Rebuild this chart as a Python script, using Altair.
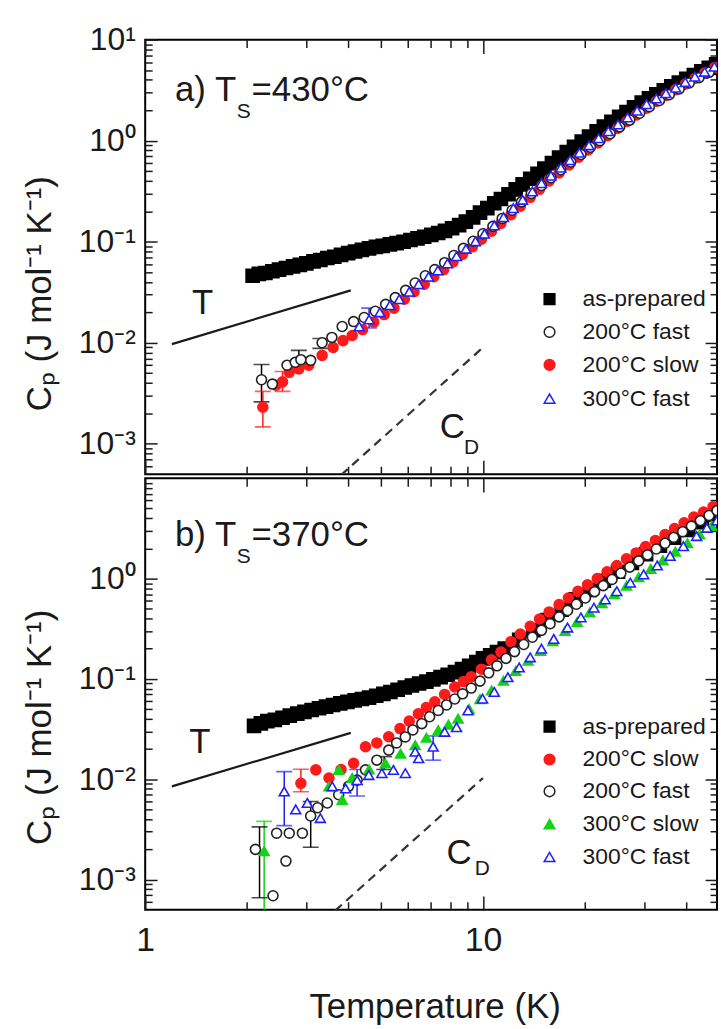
import altair as alt
import pandas as pd

# ---------------- panel a) T_S = 430 C ----------------
A_ASPREP_T = [2.08, 2.17, 2.27, 2.38, 2.49, 2.61, 2.74, 2.87, 3.0, 3.15, 3.3, 3.46, 3.63, 3.8, 3.99,
              4.18, 4.38, 4.6, 4.82, 5.05, 5.3, 5.55, 5.82, 6.1, 6.4, 6.7, 7.03, 7.37, 7.72, 8.1,
              8.5, 8.9, 9.35, 9.8, 10.3, 10.8, 11.3, 11.9, 12.5, 13.1, 13.8, 14.5, 15.2, 16.0, 16.8,
              17.7, 18.6, 19.6, 20.6, 21.7, 22.8, 24.0, 25.3, 26.6, 28.0, 29.5, 31.0, 32.6, 34.3, 36.1,
              38.0, 40.0, 42.1, 44.3, 46.6, 49.0]
A_ASPREP_C = [0.046, 0.048, 0.049, 0.051, 0.053, 0.055, 0.057, 0.059, 0.061, 0.064, 0.066, 0.069, 0.071, 0.074, 0.077,
              0.080, 0.083, 0.086, 0.089, 0.091, 0.094, 0.097, 0.100, 0.104, 0.108, 0.112, 0.117, 0.122, 0.128, 0.136,
              0.146, 0.158, 0.174, 0.194, 0.215, 0.240, 0.265, 0.295, 0.330, 0.370, 0.420, 0.470, 0.530, 0.600, 0.680,
              0.770, 0.870, 0.980, 1.10, 1.24, 1.38, 1.54, 1.72, 1.92, 2.14, 2.38, 2.62, 2.88, 3.15, 3.45,
              3.75, 4.10, 4.45, 4.85, 5.25, 5.70]
A_200F_T = [2.21, 2.38, 2.63, 2.78, 2.89, 3.09, 3.34, 3.57, 3.83, 4.14, 4.45, 4.8, 5.15, 5.5, 5.9,
            6.3, 6.75, 7.2, 7.7, 8.2, 8.75, 9.35, 10.0, 10.7, 11.4, 12.2, 13.0, 13.9, 14.9, 15.9,
            17.0, 18.2, 19.5, 20.8, 22.2, 23.8, 25.4, 27.2, 29.1, 31.1, 33.3, 35.6, 38.1, 40.8, 43.6, 46.7]
A_200F_C = [0.0043, 0.0039, 0.0060, 0.0064, 0.0068, 0.0067, 0.0100, 0.0113, 0.0145, 0.0162, 0.0178, 0.0205, 0.024, 0.028, 0.033,
            0.039, 0.046, 0.053, 0.062, 0.073, 0.086, 0.101, 0.120, 0.142, 0.170, 0.205, 0.248, 0.300, 0.360, 0.430,
            0.515, 0.615, 0.730, 0.860, 1.00, 1.17, 1.37, 1.60, 1.87, 2.17, 2.50, 2.85, 3.25, 3.72, 4.20, 4.75]
A_200S_T = [2.23, 2.44, 2.55, 2.67, 2.85, 3.05, 3.34, 3.6, 3.85, 4.1, 4.4, 4.75, 5.1, 5.45, 5.85,
            6.25, 6.7, 7.15, 7.65, 8.15, 8.7, 9.3, 9.9, 10.6, 11.3, 12.1, 12.9, 13.8, 14.7, 15.7,
            16.8, 18.0, 19.2, 20.5, 21.9, 23.4, 25.0, 26.7, 28.5, 30.5, 32.6, 34.8, 37.2, 39.8, 42.5, 45.4, 48.5]
A_200S_C = [0.0023, 0.0038, 0.0041, 0.0051, 0.0055, 0.0060, 0.0075, 0.0090, 0.0105, 0.0118, 0.0135, 0.0160, 0.019, 0.022, 0.027,
            0.032, 0.038, 0.045, 0.053, 0.063, 0.075, 0.089, 0.106, 0.127, 0.152, 0.185, 0.225, 0.275, 0.330, 0.400,
            0.480, 0.575, 0.685, 0.810, 0.950, 1.12, 1.32, 1.55, 1.80, 2.10, 2.45, 2.80, 3.20, 3.65, 4.15, 4.70, 5.30]
A_300F_T = [4.3, 4.6, 4.95, 5.3, 5.65, 6.05, 6.45, 6.9, 7.35, 7.85, 8.35, 8.9, 9.5, 10.1, 10.8,
            11.5, 12.3, 13.1, 14.0, 14.9, 15.9, 17.0, 18.1, 19.3, 20.6, 22.0, 23.5, 25.1, 26.8, 28.6,
            30.5, 32.6, 34.8, 37.2, 39.7, 42.4, 45.3, 48.4]
A_300F_C = [0.0145, 0.017, 0.020, 0.0235, 0.027, 0.032, 0.038, 0.045, 0.052, 0.061, 0.072, 0.085, 0.101, 0.120, 0.145,
            0.175, 0.215, 0.260, 0.315, 0.380, 0.450, 0.540, 0.640, 0.760, 0.900, 1.06, 1.24, 1.45, 1.70, 1.98,
            2.30, 2.62, 2.95, 3.35, 3.80, 4.30, 4.80, 5.40]
A_ERR_SERIES = ["200°C fast", "200°C slow", "200°C slow", "200°C fast", "200°C fast", "300°C fast"]
A_ERR_T = [2.21, 2.23, 2.55, 2.85, 3.3, 4.6]
A_ERR_LO = [0.0026, 0.00147, 0.0033, 0.0056, 0.0088, 0.0140]
A_ERR_HI = [0.0061, 0.0033, 0.0052, 0.0084, 0.0110, 0.0220]
A_TLINE_T = [1.2, 4.06]
A_TLINE_C = [0.0097, 0.033]
A_CD_T = [3.8, 10.0]
A_CD_C = [0.00049, 0.0090]

# ---------------- panel b) T_S = 370 C ----------------
B_ASPREP_T = [2.1, 2.2, 2.3, 2.42, 2.55, 2.68, 2.82, 2.96, 3.11, 3.27, 3.43, 3.6, 3.78, 3.97, 4.17,
              4.38, 4.6, 4.83, 5.07, 5.32, 5.59, 5.87, 6.16, 6.47, 6.8, 7.13, 7.49, 7.86, 8.26, 8.67,
              9.1, 9.56, 10.0, 10.5, 11.0, 11.6, 12.8, 14.1, 15.5, 17.1, 18.8, 20.7, 22.8, 25.1, 27.6,
              30.4, 33.4, 36.8, 40.5, 44.5, 49.0]
B_ASPREP_C = [0.034, 0.036, 0.038, 0.039, 0.041, 0.043, 0.045, 0.047, 0.049, 0.051, 0.053, 0.055, 0.057, 0.059, 0.061,
              0.063, 0.065, 0.068, 0.071, 0.074, 0.078, 0.082, 0.086, 0.090, 0.094, 0.099, 0.104, 0.110, 0.117, 0.125,
              0.135, 0.147, 0.160, 0.172, 0.185, 0.200, 0.245, 0.305, 0.385, 0.490, 0.620, 0.770, 0.950, 1.17, 1.43,
              1.75, 2.12, 2.55, 3.05, 3.65, 4.35]
B_200S_T = [2.89, 3.2, 3.5, 3.8, 4.14, 4.49, 4.85, 5.26, 5.68, 6.05, 6.44, 6.8, 7.2, 7.7, 8.25,
            8.75, 9.23, 9.9, 10.6, 11.3, 12.1, 12.9, 13.8, 14.7, 15.7, 16.8, 17.9, 19.1, 20.4, 21.8,
            23.3, 24.9, 26.6, 28.4, 30.3, 32.4, 34.6, 36.9, 39.4, 42.1, 45.0, 48.0]
B_200S_C = [0.0091, 0.0124, 0.0103, 0.0125, 0.0144, 0.0211, 0.023, 0.0265, 0.032, 0.038, 0.045, 0.052, 0.059, 0.070, 0.083,
            0.094, 0.105, 0.125, 0.155, 0.185, 0.235, 0.28, 0.335, 0.395, 0.465, 0.55, 0.64, 0.745, 0.865, 1.00,
            1.17, 1.35, 1.57, 1.80, 2.08, 2.40, 2.75, 3.15, 3.60, 4.10, 4.60, 5.20]
B_200F_T = [2.12, 2.39, 2.45, 2.61, 2.67, 2.92, 3.09, 3.24, 3.46, 3.74, 4.0, 4.24, 4.49, 4.85, 5.26,
            5.55, 5.89, 6.2, 6.59, 6.95, 7.37, 7.8, 8.25, 8.7, 9.23, 9.8, 10.4, 11.0, 11.7, 12.4,
            13.2, 14.0, 14.9, 15.8, 16.8, 17.8, 18.9, 20.1, 21.4, 22.7, 24.1, 25.6, 27.2, 28.9, 30.7,
            32.6, 34.6, 36.7, 39.0, 41.4, 44.0, 46.7, 49.3]
B_200F_C = [0.0020, 0.00069, 0.0029, 0.00153, 0.0029, 0.0029, 0.0043, 0.0052, 0.0058, 0.0070, 0.0085, 0.0098, 0.0124, 0.0155, 0.0195,
            0.023, 0.0264, 0.031, 0.0358, 0.042, 0.0485, 0.055, 0.063, 0.071, 0.081, 0.095, 0.115, 0.135, 0.16, 0.187,
            0.22, 0.26, 0.305, 0.355, 0.415, 0.48, 0.555, 0.64, 0.74, 0.85, 0.98, 1.13, 1.30, 1.50, 1.72,
            1.97, 2.25, 2.57, 2.93, 3.33, 3.78, 4.25, 4.75]
B_300S_T = [2.25, 3.5, 3.74, 3.83, 4.1, 4.6, 5.14, 5.7, 6.3, 6.8, 7.37, 7.9, 8.44, 9.1, 9.8,
            10.6, 11.5, 12.5, 13.6, 14.8, 16.1, 17.5, 19.0, 20.7, 22.5, 24.5, 26.6, 28.9, 31.4, 34.1,
            37.1, 40.3, 43.8, 47.6]
B_300S_C = [0.00192, 0.0085, 0.0124, 0.00624, 0.0103, 0.0125, 0.0144, 0.018, 0.0219, 0.026, 0.0308, 0.035, 0.0402, 0.050, 0.063,
            0.0766, 0.096, 0.12, 0.152, 0.19, 0.238, 0.30, 0.37, 0.46, 0.57, 0.70, 0.85, 1.03, 1.25, 1.52,
            1.85, 2.25, 2.75, 3.35]
B_300F_T = [2.58, 2.79, 3.02, 3.3, 3.58, 3.92, 4.24, 4.59, 5.02, 5.43, 5.89, 6.3, 6.45, 7.12, 7.7,
            8.35, 9.03, 9.97, 10.8, 11.85, 12.8, 13.8, 14.9, 16.2, 17.8, 19.5, 21.3, 23.0, 24.9, 27.3,
            29.9, 32.8, 35.8, 39.2, 42.9, 46.0, 49.3]
B_300F_C = [0.00755, 0.0050, 0.0058, 0.0041, 0.0085, 0.0081, 0.0098, 0.0110, 0.0115, 0.0124, 0.0115, 0.0188, 0.0162, 0.0211, 0.0297,
            0.033, 0.0485, 0.0634, 0.074, 0.104, 0.13, 0.164, 0.20, 0.25, 0.325, 0.41, 0.513, 0.62, 0.749, 0.91,
            1.10, 1.35, 1.68, 2.10, 2.65, 3.20, 3.80]
B_ERR_SERIES = ["300°C fast", "300°C slow", "200°C fast", "200°C fast", "200°C slow", "300°C fast", "300°C fast", "as-prepared"]
B_ERR_T = [2.58, 2.25, 2.18, 3.09, 2.89, 4.24, 7.12, 5.1]
B_ERR_LO = [0.00345, 0.0003, 0.00066, 0.0021, 0.0075, 0.0068, 0.0155, 0.0125]
B_ERR_HI = [0.0119, 0.0038, 0.00335, 0.0060, 0.0126, 0.0125, 0.0270, 0.0168]
B_TLINE_T = [1.2, 4.06]
B_TLINE_C = [0.0085, 0.0290]
B_CD_T = [3.65, 10.0]
B_CD_C = [0.00049, 0.0103]

# ---------------- tick values ----------------
X_MAJOR = [1, 10]
X_MINOR = [2, 3, 4, 5, 6, 7, 8, 9, 20, 30, 40]
Y_MAJOR_A = [0.001, 0.01, 0.1, 1, 10]
Y_MAJOR_B = [0.001, 0.01, 0.1, 1]
Y_MINOR = [0.0006, 0.0007, 0.0008, 0.0009, 0.002, 0.003, 0.004, 0.005, 0.006, 0.007, 0.008, 0.009,
           0.02, 0.03, 0.04, 0.05, 0.06, 0.07, 0.08, 0.09, 0.2, 0.3, 0.4, 0.5, 0.6, 0.7, 0.8, 0.9,
           2, 3, 4, 5, 6, 7, 8, 9]

# ---------------- annotation texts (placed in data coordinates) ----------------
A_TXT = ["a) T", "=430°C", "T", "C"]
A_TXT_T = [1.225, 2.064, 1.375, 7.45]
A_TXT_C = [2.45, 2.45, 0.0191, 0.00113]
A_SUB = ["S", "D"]
A_SUB_T = [1.865, 8.78]
A_SUB_C = [1.666, 0.0008]
B_TXT = ["b) T", "=370°C", "T", "C"]
B_TXT_T = [1.225, 2.064, 1.35, 7.8]
B_TXT_C = [2.098, 2.098, 0.0181, 0.00142]
B_SUB = ["S", "D"]
B_SUB_T = [1.865, 9.45]
B_SUB_C = [1.424, 0.0011]

# legend rows (symbol column / label column in data coordinates)
LEG_SYM_T = 15.74
LEG_TXT_T = 19.71
A_LEG_ORDER = ["as-prepared", "200°C fast", "200°C slow", "300°C fast"]
A_LEG_C = [0.0270, 0.01277, 0.00604, 0.0028]
B_LEG_ORDER = ["as-prepared", "200°C slow", "200°C fast", "300°C slow", "300°C fast"]
B_LEG_C = [0.0334, 0.01574, 0.00758, 0.00357, 0.00168]

FONT = "Liberation Sans"
INK = "#1a1a1a"
W, HA, HB = 575, 437, 434

XSCALE = alt.Scale(type="log", domain=[1, 49.3], nice=False)
YSCALE = alt.Scale(type="log", domain=[0.0005, 10], nice=False)

STYLE = {
    "as-prepared": dict(fill="black", stroke="black", shape="square", err="black"),
    "200°C fast": dict(fill="white", stroke="#222222", shape="circle", err="black"),
    "200°C slow": dict(fill="#ff1a1a", stroke="#ff1a1a", shape="circle", err="#ff1a1a"),
    "300°C slow": dict(fill="#14d214", stroke="#14d214", shape="triangle-up", err="#14d214"),
    "300°C fast": dict(fill="white", stroke="#1f1fff", shape="triangle-up", err="#1f1fff"),
}

Y_LABEL_EXPR = ("datum.value > 5 ? '10\u00b9' : datum.value > 0.5 ? '10\u2070' : "
                "datum.value > 0.05 ? '10\u207b\u00b9' : datum.value > 0.005 ? '10\u207b\u00b2' : '10\u207b\u00b3'")


def frame(series):
    parts = [pd.DataFrame({"T": t, "C": c, "series": name}) for name, t, c in series]
    return pd.concat(parts, ignore_index=True)


def xy(field_y="C"):
    return dict(x=alt.X("T:Q", scale=XSCALE, axis=None), y=alt.Y(f"{field_y}:Q", scale=YSCALE, axis=None))


def axis_layers(df, show_x, y_major, title_y):
    common = dict(domain=False, grid=False, tickColor=INK, tickWidth=1.5)
    if show_x:
        xb = alt.Axis(orient="bottom", values=X_MAJOR, tickSize=14, offset=-14, labels=True,
                      labelExpr="format(datum.value, 'd')", labelFont=FONT, labelFontSize=34,
                      labelColor=INK, labelPadding=14, labelFlush=False, labelOverlap=False,
                      title="Temperature (K)", titleFont=FONT, titleFontSize=35, titleFontWeight="normal",
                      titleColor=INK, titleX=291, titleY=122, titleBaseline="alphabetic", **common)
    else:
        xb = alt.Axis(orient="bottom", values=X_MAJOR, tickSize=14, offset=-14, labels=False, title=None, **common)
    xbm = alt.Axis(orient="bottom", values=X_MINOR, tickSize=8, offset=-8, labels=False, title=None, **common)
    xt = alt.Axis(orient="top", values=X_MAJOR, tickSize=14, offset=-14, labels=False, title=None, **common)
    xtm = alt.Axis(orient="top", values=X_MINOR, tickSize=8, offset=-8, labels=False, title=None, **common)
    yl = alt.Axis(orient="left", values=y_major, tickSize=12, offset=-12, labels=True, labelExpr=Y_LABEL_EXPR,
                  labelFont=FONT, labelFontSize=32, labelColor=INK, labelPadding=10, labelOverlap=False,
                  labelBaseline="middle",
                  title="C\u209a (J mol\u207b\u00b9 K\u207b\u00b9)", titleFont=FONT, titleFontSize=35,
                  titleFontWeight="normal", titleColor=INK, titleAngle=270, titleX=-107, titleY=title_y,
                  titleBaseline="alphabetic", titleAlign="center", **common)
    ylm = alt.Axis(orient="left", values=Y_MINOR, tickSize=7, offset=-7, labels=False, title=None, **common)
    yr = alt.Axis(orient="right", values=Y_MAJOR_A, tickSize=12, offset=-12, labels=False, title=None, **common)
    yrm = alt.Axis(orient="right", values=Y_MINOR, tickSize=7, offset=-7, labels=False, title=None, **common)
    layers = []
    for ax_x, ax_y in [(xb, yl), (xbm, ylm), (xt, yr), (xtm, yrm)]:
        layers.append(alt.Chart(df).mark_point(opacity=0).encode(
            x=alt.X("T:Q", scale=XSCALE, axis=ax_x), y=alt.Y("C:Q", scale=YSCALE, axis=ax_y)))
    return layers


def panel(series, err, tline, cdline, txt, sub, leg_order, leg_c, show_x, y_major, title_y, height):
    order = [s[0] for s in series]
    df = frame(series)
    fill_s = alt.Scale(domain=order, range=[STYLE[s]["fill"] for s in order])
    stroke_s = alt.Scale(domain=order, range=[STYLE[s]["stroke"] for s in order])
    shape_s = alt.Scale(domain=order, range=[STYLE[s]["shape"] for s in order])
    style_enc = dict(
        fill=alt.Fill("series:N", scale=fill_s, legend=None),
        stroke=alt.Stroke("series:N", scale=stroke_s, legend=None),
        shape=alt.Shape("series:N", scale=shape_s, legend=None),
    )
    sq = alt.Chart(df).transform_filter(alt.datum.series == "as-prepared").mark_point(
        opacity=1, strokeWidth=1.5, clip=True, size=175).encode(**xy(), **style_enc)
    pts = alt.Chart(df).transform_filter(alt.datum.series != "as-prepared").mark_point(
        opacity=1, strokeWidth=1.6, clip=True, size=100).encode(**xy(), **style_enc)
    # legend drawn inside the plot
    leg_df = pd.DataFrame({"series": leg_order, "C": leg_c, "T": LEG_SYM_T, "Tt": LEG_TXT_T})
    leg_sym = alt.Chart(leg_df).mark_point(opacity=1, strokeWidth=1.5, size=115).encode(**xy(), **style_enc)
    leg_txt = alt.Chart(leg_df).mark_text(align="left", baseline="middle", font=FONT, fontSize=23,
                                          color=INK).encode(
        x=alt.X("Tt:Q", scale=XSCALE, axis=None), y=alt.Y("C:Q", scale=YSCALE, axis=None), text="series:N")
    err_df = pd.DataFrame({"series": err[0], "T": err[1], "lo": err[2], "hi": err[3]})
    ecol = alt.Color("series:N", scale=alt.Scale(domain=order, range=[STYLE[s]["err"] for s in order]), legend=None)
    ebar = alt.Chart(err_df).mark_rule(strokeWidth=1.5, clip=True).encode(
        x=alt.X("T:Q", scale=XSCALE, axis=None), y=alt.Y("lo:Q", scale=YSCALE, axis=None), y2="hi:Q", color=ecol)
    cap_lo = alt.Chart(err_df).mark_tick(orient="horizontal", size=16, thickness=1.6, clip=True).encode(
        x=alt.X("T:Q", scale=XSCALE, axis=None), y=alt.Y("lo:Q", scale=YSCALE, axis=None), color=ecol)
    cap_hi = alt.Chart(err_df).mark_tick(orient="horizontal", size=16, thickness=1.6, clip=True).encode(
        x=alt.X("T:Q", scale=XSCALE, axis=None), y=alt.Y("hi:Q", scale=YSCALE, axis=None), color=ecol)
    tl = alt.Chart(pd.DataFrame({"T": tline[0], "C": tline[1]})).mark_line(
        color=INK, strokeWidth=2.2, clip=True).encode(**xy())
    cd = alt.Chart(pd.DataFrame({"T": cdline[0], "C": cdline[1]})).mark_line(
        color="#333333", strokeWidth=2.2, strokeDash=[9, 6], clip=True).encode(**xy())
    big = alt.Chart(pd.DataFrame({"label": txt[0], "T": txt[1], "C": txt[2]})).mark_text(
        align="left", baseline="alphabetic", font=FONT, fontSize=35, color=INK).encode(**xy(), text="label:N")
    small = alt.Chart(pd.DataFrame({"label": sub[0], "T": sub[1], "C": sub[2]})).mark_text(
        align="left", baseline="alphabetic", font=FONT, fontSize=21, color=INK).encode(**xy(), text="label:N")
    layers = axis_layers(df, show_x, y_major, title_y) + [tl, cd, ebar, cap_lo, cap_hi, sq, pts,
                                                         leg_sym, leg_txt, big, small]
    return alt.layer(*layers).resolve_axis(x="independent", y="independent").properties(width=W, height=height)


panel_a = panel(
    [("as-prepared", A_ASPREP_T, A_ASPREP_C), ("200°C slow", A_200S_T, A_200S_C),
     ("200°C fast", A_200F_T, A_200F_C), ("300°C fast", A_300F_T, A_300F_C)],
    (A_ERR_SERIES, A_ERR_T, A_ERR_LO, A_ERR_HI), (A_TLINE_T, A_TLINE_C), (A_CD_T, A_CD_C),
    (A_TXT, A_TXT_T, A_TXT_C), (A_SUB, A_SUB_T, A_SUB_C), A_LEG_ORDER, A_LEG_C, False, Y_MAJOR_A, 255, HA)

panel_b = panel(
    [("as-prepared", B_ASPREP_T, B_ASPREP_C), ("200°C slow", B_200S_T, B_200S_C),
     ("200°C fast", B_200F_T, B_200F_C), ("300°C slow", B_300S_T, B_300S_C), ("300°C fast", B_300F_T, B_300F_C)],
    (B_ERR_SERIES, B_ERR_T, B_ERR_LO, B_ERR_HI), (B_TLINE_T, B_TLINE_C), (B_CD_T, B_CD_C),
    (B_TXT, B_TXT_T, B_TXT_C), (B_SUB, B_SUB_T, B_SUB_C), B_LEG_ORDER, B_LEG_C, True, Y_MAJOR_B, 250, HB)

chart = alt.vconcat(panel_a, panel_b, spacing=0).resolve_scale(
    fill="independent", stroke="independent", shape="independent", color="independent"
).properties(
    padding={"left": 22, "top": 20, "right": 0, "bottom": 0}, background="white"
).configure_view(stroke="black", strokeWidth=2)

chart.save("out.html", embed_options={"renderer": "svg", "actions": False})
